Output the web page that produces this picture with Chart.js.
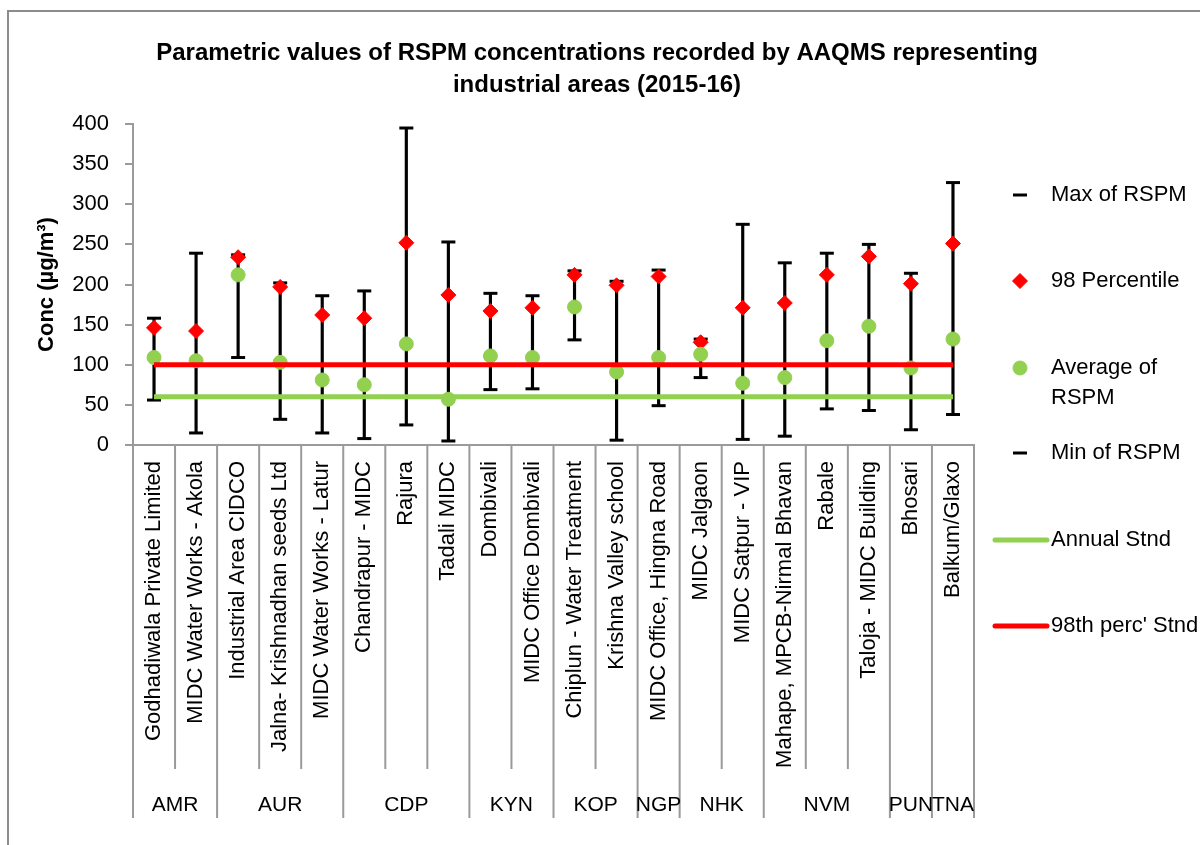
<!DOCTYPE html>
<html>
<head>
<meta charset="utf-8">
<script src="https://cdn.jsdelivr.net/npm/chart.js@4.4.1/dist/chart.umd.min.js"></script>
<style>
  html, body { margin: 0; padding: 0; background: #fff; }
  #wrap { width: 1200px; height: 845px; position: relative; }
</style>
</head>
<body>
<div id="wrap"><canvas id="rspmChart" width="1200" height="845"></canvas></div>
<script>
// monitoring stations (x categories) and their region groups
const sites = [
    "Godhadiwala Private Limited", "MIDC Water Works - Akola",
    "Industrial Area CIDCO", "Jalna- Krishnadhan seeds Ltd", "MIDC Water Works - Latur",
    "Chandrapur - MIDC", "Rajura", "Tadali MIDC",
    "Dombivali", "MIDC Office Dombivali",
    "Chiplun - Water Treatment", "Krishna Valley school",
    "MIDC Office, Hingna Road",
    "MIDC Jalgaon", "MIDC Satpur - VIP",
    "Mahape, MPCB-Nirmal Bhavan", "Rabale", "Taloja - MIDC Building",
    "Bhosari",
    "Balkum/Glaxo"
];
const groups = ["AMR", "AUR", "CDP", "KYN", "KOP", "NGP", "NHK", "NVM", "PUN", "TNA"];
const groupSizes = [2, 3, 3, 2, 2, 1, 2, 3, 1, 1];

// values in µg/m3
const maxRspm = [158, 239, 237, 202, 186, 192, 395, 253, 189, 186, 217, 204, 218, 132, 275, 227, 239, 250, 214, 327];
const p98Rspm = [146, 142, 234, 197, 162, 158, 252, 187, 167, 171, 212, 199, 210, 128, 171, 177, 212, 235, 201, 251];
const avgRspm = [109, 105, 212, 103, 81, 75, 126, 57, 111, 109, 172, 91, 109, 113, 77, 84, 130, 148, 96, 132];
const minRspm = [56, 15, 109, 32, 15, 8, 25, 5, 69, 70, 131, 6, 49, 84, 7, 11, 45, 43, 19, 38];
const annualStnd = [60, 60, 60, 60, 60, 60, 60, 60, 60, 60, 60, 60, 60, 60, 60, 60, 60, 60, 60, 60];
const p98Stnd = [100, 100, 100, 100, 100, 100, 100, 100, 100, 100, 100, 100, 100, 100, 100, 100, 100, 100, 100, 100];
const yTicks = [0, 50, 100, 150, 200, 250, 300, 350, 400];

const titleLines = ["Parametric values of RSPM concentrations recorded by AAQMS representing", "industrial areas (2015-16)"];

// the original uses a narrow sans; use it when it is installed
function pickFont() {
    const c = document.createElement("canvas").getContext("2d");
    const s = "Godhadiwala Private Limited";
    c.font = "20px monospace";
    const w0 = c.measureText(s).width;
    c.font = "20px 'Liberation Sans Narrow', monospace";
    const w1 = c.measureText(s).width;
    return w1 !== w0 ? { family: "'Liberation Sans Narrow', 'Liberation Sans', Arial", k: 1 }
                     : { family: "'Liberation Sans', Arial", k: 0.84 };
}
const F = pickFont();
const fs = px => Math.round(px * F.k);
const AXIS = "#9a9a9a";
const GREEN = "#92d050";
const RED = "#ff0000";

// whisker from min to max
const ranges = sites.map((_, i) => [minRspm[i], maxRspm[i]]);

const extras = {
    id: "extras",
    afterDraw(chart) {
        const ctx = chart.ctx;
        const x = chart.scales.x;
        const area = chart.chartArea;
        const half = (x.getPixelForValue(1) - x.getPixelForValue(0)) / 2;
        ctx.save();

        // outer frame (only top and left edges fall inside the picture)
        ctx.strokeStyle = "#8c8c8c";
        ctx.lineWidth = 2;
        ctx.beginPath();
        ctx.moveTo(8, 850); ctx.lineTo(8, 11); ctx.lineTo(1205, 11);
        ctx.stroke();

        // category separators; group edges run further down
        const groupEdges = [0];
        groupSizes.reduce((acc, n) => { groupEdges.push(acc + n); return acc + n; }, 0);
        ctx.strokeStyle = AXIS;
        ctx.lineWidth = 2;
        for (let i = 0; i <= sites.length; i++) {
            const bx = i === 0 ? x.getPixelForValue(0) - half : x.getPixelForValue(i - 1) + half;
            const long = groupEdges.includes(i);
            ctx.beginPath();
            ctx.moveTo(bx, area.bottom);
            ctx.lineTo(bx, long ? 818 : 769);
            ctx.stroke();
        }

        // group labels
        ctx.fillStyle = "#000";
        ctx.font = fs(25) + "px " + F.family;
        ctx.textAlign = "center";
        ctx.textBaseline = "alphabetic";
        groups.forEach((g, gi) => {
            const a = groupEdges[gi], b = groupEdges[gi + 1] - 1;
            const cx = (x.getPixelForValue(a) + x.getPixelForValue(b)) / 2;
            ctx.fillText(g, cx, 811);
        });

        // title
        ctx.font = "bold " + fs(28.5) + "px " + F.family;
        ctx.fillText(titleLines[0], 597, 60);
        ctx.fillText(titleLines[1], 597, 92);

        // legend
        const legendY = [195, 281, 368, 453, 540, 626];
        const order = [1, 3, 4, 2, 5, 6];
        ctx.font = fs(26) + "px " + F.family;
        ctx.textAlign = "left";
        ctx.textBaseline = "middle";
        order.forEach((di, k) => {
            const ds = chart.data.datasets[di];
            const y = legendY[k];
            if (ds.pointRadius === 0) {
                ctx.strokeStyle = ds.borderColor;
                ctx.lineWidth = ds.borderWidth;
                ctx.lineCap = "round";
                ctx.beginPath();
                ctx.moveTo(995, y); ctx.lineTo(1047, y);
                ctx.stroke();
            } else {
                ctx.fillStyle = ds.backgroundColor;
                ctx.strokeStyle = ds.borderColor;
                ctx.lineWidth = ds.pointBorderWidth;
                Chart.helpers.drawPoint(ctx, {
                    pointStyle: ds.pointStyle, radius: ds.pointRadius,
                    rotation: 0, borderWidth: ds.pointBorderWidth
                }, 1020, y);
            }
            // wrap long names onto a second line
            const words = ds.label.split(" ");
            const lines = [];
            let cur = "";
            words.forEach(w => {
                const t = cur ? cur + " " + w : w;
                if (ctx.measureText(t).width > 155 && cur) { lines.push(cur); cur = w; }
                else cur = t;
            });
            lines.push(cur);
            ctx.fillStyle = "#000";
            lines.forEach((l, li) => ctx.fillText(l, 1051, y + li * 30));
        });
        ctx.restore();
    }
};

new Chart(document.getElementById("rspmChart"), {
    type: "bar",
    data: {
        labels: sites,
        datasets: [
            { type: "bar", label: "range", data: ranges, backgroundColor: "#000", barThickness: 2.5, order: 5 },
            { type: "line", label: "Max of RSPM", data: maxRspm, showLine: false, pointStyle: "line",
              pointRadius: 7, pointBorderWidth: 3, borderColor: "#000", backgroundColor: "#000", order: 4 },
            { type: "line", label: "Min of RSPM", data: minRspm, showLine: false, pointStyle: "line",
              pointRadius: 7, pointBorderWidth: 3, borderColor: "#000", backgroundColor: "#000", order: 4 },
            { type: "line", label: "98 Percentile", data: p98Rspm, showLine: false, pointStyle: "rectRot",
              pointRadius: 7.5, pointBorderWidth: 1, borderColor: RED, backgroundColor: RED, order: 3 },
            { type: "line", label: "Average of RSPM", data: avgRspm, showLine: false, pointStyle: "circle",
              pointRadius: 7, pointBorderWidth: 1, borderColor: GREEN, backgroundColor: GREEN, order: 2 },
            { type: "line", label: "Annual Stnd", data: annualStnd, borderColor: GREEN, backgroundColor: GREEN,
              borderWidth: 5, pointRadius: 0, order: 1 },
            { type: "line", label: "98th perc' Stnd", data: p98Stnd, borderColor: RED, backgroundColor: RED,
              borderWidth: 5, pointRadius: 0, order: 0 }
        ]
    },
    options: {
        responsive: false,
        animation: false,
        layout: { padding: { top: 124, right: 226, bottom: 0, left: 0 } },
        plugins: {
            legend: { display: false },
            title: { display: false },
            tooltip: { enabled: false }
        },
        scales: {
            x: {
                offset: true,
                grid: { display: false, drawTicks: false },
                border: { display: true, color: AXIS, width: 2 },
                ticks: {
                    autoSkip: false, minRotation: 90, maxRotation: 90, padding: 16,
                    color: "#000", font: { family: F.family, size: fs(26) }
                },
                afterFit: s => { s.height = 400; }
            },
            y: {
                min: 0, max: 400,
                afterBuildTicks: s => { s.ticks = yTicks.map(v => ({ value: v })); },
                grid: { drawOnChartArea: false, tickLength: 8, color: AXIS, lineWidth: 2 },
                border: { color: AXIS, width: 2 },
                ticks: { padding: 16, color: "#000", font: { family: F.family, size: fs(26) } },
                title: {
                    display: true, text: "Conc (µg/m³)", color: "#000",
                    font: { family: F.family, size: fs(26), weight: "bold" },
                    padding: { top: 34, bottom: 0 }
                },
                afterFit: s => { s.width = 133; }
            }
        }
    },
    plugins: [extras]
});
</script>
</body>
</html>
